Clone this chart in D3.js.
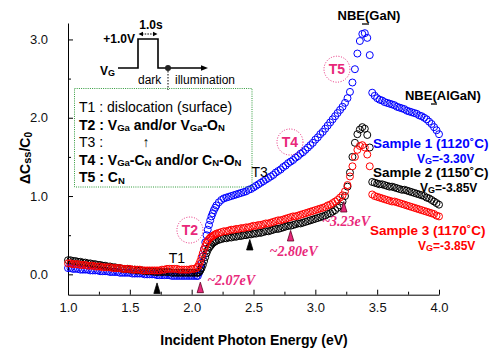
<!DOCTYPE html>
<html><head><meta charset="utf-8">
<script src="https://cdn.jsdelivr.net/npm/d3@7"></script>
<style>body{margin:0;background:#fff}svg{display:block}</style>
</head><body>
<svg id="c" width="491" height="350"></svg>
<script>
// ---------- data ----------
const energy = [
1.00,1.02,1.04,1.06,1.08,1.10,1.12,1.14,1.16,1.18,
1.20,1.22,1.24,1.26,1.28,1.30,1.32,1.34,1.36,1.38,
1.40,1.42,1.44,1.46,1.48,1.50,1.52,1.54,1.56,1.58,
1.60,1.62,1.64,1.66,1.68,1.70,1.72,1.74,1.76,1.78,
1.80,1.82,1.84,1.86,1.88,1.90,1.92,1.94,1.96,1.98,
2.00,2.02,2.04,2.05,2.06,2.07,2.08,2.09,2.10,2.11,2.12,2.13,2.14,2.15,2.16,2.17,2.18,2.19,
2.20,2.22,2.24,2.26,2.28,2.30,2.32,2.34,2.36,2.38,
2.40,2.42,2.44,2.46,2.48,2.50,2.52,2.54,2.56,2.58,
2.60,2.62,2.64,2.66,2.68,2.70,2.72,2.74,2.76,2.78,
2.80,2.82,2.84,2.86,2.88,2.90,2.92,2.94,2.96,2.98,
3.00,3.02,3.04,3.06,3.08,3.10,3.12,3.14,3.16,3.18,
3.20,3.22,3.24,3.26,3.28,3.30,3.32,3.34,3.36,3.38,
3.40,3.42,3.44,3.46,3.48,3.50,3.52,3.54,3.56,3.58,
3.60,3.62,3.64,3.66,3.68,3.70,3.72,3.74,3.76,3.78,
3.80,3.82,3.84,3.86,3.88,3.90,3.92,3.94,3.96,3.98,
4.00];
const sample1 = [
0.08,0.08,0.07,0.07,0.07,0.06,0.06,0.06,0.06,0.05,
0.05,0.05,0.05,0.04,0.04,0.04,0.04,0.03,0.03,0.03,
0.03,0.02,0.02,0.02,0.02,0.02,0.01,0.01,0.01,0.01,
0.01,0.00,0.00,0.00,0.00,0.00,-0.01,-0.01,-0.01,-0.01,
-0.01,-0.01,-0.02,-0.02,-0.02,-0.02,-0.02,-0.02,-0.02,-0.02,
-0.02,-0.02,-0.02,-0.02,0.02,0.07,0.14,0.23,0.32,0.41,0.50,0.57,0.63,0.69,0.74,0.78,0.82,0.85,
0.88,0.92,0.95,0.97,0.98,0.99,1.00,1.01,1.02,1.03,
1.04,1.05,1.06,1.08,1.09,1.11,1.13,1.15,1.17,1.19,
1.21,1.23,1.25,1.27,1.30,1.32,1.34,1.37,1.39,1.42,
1.44,1.46,1.49,1.51,1.54,1.56,1.59,1.62,1.65,1.68,
1.72,1.75,1.79,1.82,1.86,1.90,1.94,1.98,2.02,2.06,
2.10,2.14,2.19,2.25,2.33,2.45,2.62,2.82,2.98,3.07,
3.08,3.02,2.80,2.32,2.28,2.25,2.23,2.22,2.20,2.19,
2.18,2.17,2.16,2.14,2.13,2.12,2.11,2.09,2.08,2.07,
2.06,2.05,2.03,2.02,2.00,1.98,1.95,1.92,1.88,1.84,
1.79];
const sample2 = [
0.18,0.18,0.17,0.17,0.16,0.16,0.15,0.15,0.14,0.14,
0.13,0.13,0.12,0.12,0.11,0.11,0.10,0.10,0.09,0.09,
0.08,0.08,0.07,0.07,0.07,0.06,0.06,0.06,0.05,0.05,
0.05,0.04,0.04,0.04,0.04,0.03,0.03,0.03,0.03,0.03,
0.03,0.03,0.02,0.02,0.02,0.02,0.02,0.02,0.02,0.02,
0.02,0.02,0.02,0.02,0.03,0.05,0.08,0.12,0.17,0.22,0.27,0.31,0.34,0.36,0.38,0.40,0.41,0.42,
0.43,0.44,0.45,0.46,0.46,0.47,0.47,0.48,0.48,0.49,
0.49,0.50,0.50,0.51,0.51,0.52,0.52,0.53,0.53,0.54,
0.55,0.55,0.56,0.57,0.58,0.58,0.59,0.60,0.61,0.62,
0.62,0.63,0.64,0.65,0.65,0.66,0.67,0.68,0.69,0.70,
0.71,0.72,0.73,0.74,0.75,0.77,0.78,0.80,0.82,0.85,
0.88,0.93,1.00,1.12,1.30,1.50,1.68,1.79,1.85,1.88,
1.86,1.78,1.62,1.18,1.17,1.16,1.15,1.15,1.14,1.13,
1.12,1.12,1.11,1.10,1.09,1.08,1.08,1.07,1.06,1.05,
1.04,1.03,1.02,1.01,1.00,0.98,0.97,0.95,0.93,0.91,
0.89];
const sample3 = [
0.14,0.14,0.13,0.13,0.13,0.12,0.12,0.12,0.11,0.11,
0.11,0.10,0.10,0.10,0.09,0.09,0.09,0.09,0.08,0.08,
0.08,0.08,0.07,0.07,0.07,0.07,0.06,0.06,0.06,0.06,
0.05,0.05,0.05,0.05,0.05,0.05,0.05,0.05,0.06,0.06,
0.07,0.07,0.07,0.07,0.07,0.06,0.06,0.06,0.06,0.06,
0.07,0.07,0.08,0.10,0.13,0.17,0.22,0.27,0.32,0.36,0.40,0.43,0.45,0.47,0.48,0.49,0.50,0.51,
0.52,0.53,0.54,0.55,0.55,0.56,0.57,0.57,0.58,0.58,
0.59,0.59,0.60,0.60,0.61,0.62,0.62,0.63,0.63,0.64,
0.65,0.65,0.66,0.67,0.68,0.69,0.69,0.70,0.71,0.72,
0.73,0.74,0.74,0.75,0.76,0.77,0.78,0.79,0.80,0.81,
0.82,0.83,0.84,0.85,0.86,0.88,0.89,0.91,0.93,0.95,
0.98,1.01,1.06,1.14,1.25,1.38,1.50,1.59,1.64,1.65,
1.62,1.53,1.38,1.02,1.00,0.99,0.98,0.97,0.96,0.95,
0.94,0.93,0.93,0.92,0.91,0.90,0.89,0.88,0.87,0.86,
0.85,0.84,0.83,0.82,0.81,0.80,0.79,0.78,0.77,0.75,
0.74];
const seriesColors = ["#0000ff", "#000000", "#ff0000"];
const xMajorTicks = [1.0, 1.5, 2.0, 2.5, 3.0, 3.5, 4.0];
const xMinorTicks = [1.25, 1.75, 2.25, 2.75, 3.25, 3.75];
const yMajorTicks = [0, 1, 2, 3];
const yMinorTicks = [0.5, 1.5, 2.5];
// trap-level marker triangles
const markerEnergy = [1.72, 2.07, 2.47, 2.80, 3.23];
const markerLevel  = [-0.18, -0.17, 0.375, 0.49, 0.86];
const markerPink   = [false, true, false, true, true];
const energyLabels = ["~2.07eV", "~2.80eV", "~3.23eV"];
const energyLabelPos = [[2.125, -0.14], [2.63, 0.235], [3.055, 0.615]];
const trapCircles = [["T2", 1.986, 0.566], ["T4", 2.795, 1.69], ["T5", 3.175, 2.62]];

const PINK = "#e8287a";
const SANS = 'Arial,"Liberation Sans",sans-serif';
const SERIF = '"Liberation Serif","Times New Roman","DejaVu Serif",serif';
const svg = d3.select("#c").attr("font-family", SANS);
const x = d3.scaleLinear().domain([1, 4]).range([68, 439]);
const y = d3.scaleLinear().domain([-0.26, 3.21]).range([294.7, 23]);

// ---------- axes ----------
const gx = svg.append("g").attr("transform", `translate(0,${y(-0.26)})`)
  .call(d3.axisBottom(x).tickValues(xMajorTicks).tickSize(-5).tickSizeOuter(0).tickPadding(8).tickFormat(d3.format(".1f")));
svg.append("g").attr("transform", `translate(0,${y(-0.26)})`)
  .call(d3.axisBottom(x).tickValues(xMinorTicks).tickSize(-3).tickSizeOuter(0).tickFormat(""))
  .select(".domain").remove();
const gy = svg.append("g").attr("transform", `translate(${x(1)},0)`)
  .call(d3.axisLeft(y).tickValues(yMajorTicks).tickSize(-5).tickSizeOuter(0).tickPadding(20).tickFormat(d3.format(".1f")));
svg.append("g").attr("transform", `translate(${x(1)},0)`)
  .call(d3.axisLeft(y).tickValues(yMinorTicks).tickSize(-3).tickSizeOuter(0).tickFormat(""))
  .select(".domain").remove();
[gx, gy].forEach(g => g.attr("font-size", 13).attr("font-family", SANS).selectAll("text").attr("fill", "#111"));

// ---------- data marks ----------
[sample1, sample2, sample3].forEach((vals, k) => {
  svg.append("g").selectAll("circle")
    .data(energy.map((e, i) => [e, vals[i]]))
    .join("circle")
    .attr("cx", d => x(d[0])).attr("cy", d => y(d[1]))
    .attr("r", 3.5).attr("fill", "none")
    .attr("stroke", seriesColors[k]).attr("stroke-width", 1);
});

// ---------- helpers ----------
function rich(parent, px, py, parts, size, weight, color, anchor) {
  const t = parent.append("text").attr("x", px).attr("y", py)
    .attr("font-size", size).attr("font-weight", weight || "normal")
    .attr("fill", color || "#000").attr("text-anchor", anchor || "start");
  let shifted = 0;
  parts.forEach(p => {
    const ts = t.append("tspan").text(p.t);
    if (p.sub) {
      ts.attr("font-size", p.size || size * 0.68).attr("dy", (p.dy || 1.5) - shifted);
      shifted = (p.dy || 1.5);
    } else if (shifted) {
      ts.attr("dy", -shifted); shifted = 0;
    }
  });
  return t;
}

// ---------- triangles ----------
markerEnergy.forEach((e, i) => {
  const cx = x(e), cy = y(markerLevel[i]);
  svg.append("path")
    .attr("d", `M${cx},${cy - 5.5}L${cx + 3.2},${cy + 5}L${cx - 3.2},${cy + 5}Z`)
    .attr("fill", markerPink[i] ? PINK : "#000")
    .attr("stroke", markerPink[i] ? "#5a0020" : "#000").attr("stroke-width", 0.8);
});
energyLabels.forEach((s, i) => {
  svg.append("text").attr("x", x(energyLabelPos[i][0])).attr("y", y(energyLabelPos[i][1]))
    .attr("font-family", SERIF)
    .attr("font-style", "italic").attr("font-weight", "bold")
    .attr("font-size", 14).attr("fill", PINK).text(s);
});

// ---------- trap circles ----------
trapCircles.forEach(([lab, ex, ey]) => {
  svg.append("circle").attr("cx", x(ex)).attr("cy", y(ey)).attr("r", 13)
    .attr("fill", "none").attr("stroke", PINK).attr("stroke-width", 1)
    .attr("stroke-dasharray", "1,1.6");
  svg.append("text").attr("x", x(ex)).attr("y", y(ey) + 5).attr("text-anchor", "middle")
    .attr("font-size", 14).attr("font-weight", "bold").attr("fill", PINK).text(lab);
});
svg.append("text").attr("x", x(1.88)).attr("y", y(0.21) + 5).attr("text-anchor", "middle")
  .attr("font-size", 14).text("T1");
svg.append("text").attr("x", x(2.55)).attr("y", y(1.31) + 5).attr("text-anchor", "middle")
  .attr("font-size", 14).text("T3");

// ---------- NBE labels ----------
svg.append("text").attr("x", x(3.434)).attr("y", y(3.254)).attr("text-anchor", "middle")
  .attr("font-size", 13).attr("font-weight", "bold").text("NBE(GaN)");
svg.append("line").attr("x1", 362).attr("x2", 369).attr("y1", 24).attr("y2", 24).attr("stroke", "#000").attr("stroke-width", 1.3);
svg.append("text").attr("x", x(3.725)).attr("y", y(2.232))
  .attr("font-size", 13).attr("font-weight", "bold").text("NBE(AlGaN)");
svg.append("line").attr("x1", 431).attr("x2", 437).attr("y1", 104).attr("y2", 104).attr("stroke", "#000").attr("stroke-width", 1.3);

// ---------- sample labels ----------
const sampleLabels = [
  ["Sample 1 (1120˚C)", 3.466, 1.613, "V", "G", "=-3.30V", 3.822, 1.42],
  ["Sample 2 (1150˚C)", 3.466, 1.243, "V", "G", "=-3.85V", 3.846, 1.05],
  ["Sample 3 (1170˚C)", 3.442, 0.502, "V", "G", "=-3.85V", 3.83, 0.31]
];
sampleLabels.forEach((s, k) => {
  svg.append("text").attr("x", x(s[1])).attr("y", y(s[2]))
    .attr("font-size", 13.5).attr("font-weight", "bold").attr("fill", seriesColors[k]).text(s[0]);
  rich(svg, x(s[6]), y(s[7]), [{t: s[3]}, {t: s[4], sub: true, size: 9, dy: 1}, {t: s[5]}], 12, "bold", seriesColors[k]);
});

// ---------- inset pulse diagram ----------
const ins = svg.append("g");
ins.append("path").attr("d", "M118,68H138V39H158V68H203").attr("fill", "none").attr("stroke", "#000").attr("stroke-width", 1.6);
ins.append("path").attr("d", "M208,68L201,65.2L201,70.8Z").attr("fill", "#000");
ins.append("circle").attr("cx", 168).attr("cy", 68).attr("r", 3).attr("fill", "#222");
ins.append("line").attr("x1", 168).attr("x2", 168).attr("y1", 71).attr("y2", 90).attr("stroke", "#000").attr("stroke-width", 1).attr("stroke-dasharray", "1.5,1.5");
ins.append("line").attr("x1", 142).attr("x2", 154).attr("y1", 34).attr("y2", 34).attr("stroke", "#000").attr("stroke-width", 1).attr("stroke-dasharray", "1.5,1.2");
ins.append("path").attr("d", "M138.5,34L143,31.8L143,36.2Z M157.5,34L153,31.8L153,36.2Z").attr("fill", "#000");
ins.append("text").attr("x", 151).attr("y", 29).attr("text-anchor", "middle").attr("font-size", 12).attr("font-weight", "bold").text("1.0s");
ins.append("text").attr("x", 135).attr("y", 43).attr("text-anchor", "end").attr("font-size", 12).attr("font-weight", "bold").text("+1.0V");
rich(ins, 100, 75, [{t: "V"}, {t: "G", sub: true, size: 9, dy: 1}], 12, "bold", "#000");
ins.append("text").attr("x", 138).attr("y", 84).attr("font-size", 12).text("dark");
ins.append("text").attr("x", 175).attr("y", 84).attr("font-size", 12).text("illumination");

// ---------- legend box ----------
const lg = svg.append("g");
lg.append("rect").attr("x", 74.5).attr("y", 88.5).attr("width", 177.5).attr("height", 98.5)
  .attr("fill", "none").attr("stroke", "#2f9a3a").attr("stroke-width", 1).attr("stroke-dasharray", "1,1.2");
const legendLines = [
  {w: "normal", parts: [{t: "T1 : dislocation (surface)"}]},
  {w: "bold", parts: [{t: "T2 : V"}, {t: "Ga", sub: true}, {t: " and/or V"}, {t: "Ga", sub: true}, {t: "-O"}, {t: "N", sub: true}]},
  {w: "normal", parts: [{t: "T3 :"}]},
  {w: "bold", parts: [{t: "T4 : V"}, {t: "Ga", sub: true}, {t: "-C"}, {t: "N", sub: true}, {t: " and/or C"}, {t: "N", sub: true}, {t: "-O"}, {t: "N", sub: true}]},
  {w: "bold", parts: [{t: "T5 : C"}, {t: "N", sub: true}]}
];
legendLines.forEach((L, i) => rich(lg, 79, 112 + 17.5 * i, L.parts, 14, L.w, "#000"));
lg.append("text").attr("x", 146).attr("y", 147).attr("text-anchor", "middle").attr("font-size", 14).text("↑");

// ---------- axis titles ----------
svg.append("text").attr("x", 254).attr("y", 345).attr("text-anchor", "middle")
  .attr("font-size", 14).attr("font-weight", "bold").text("Incident Photon Energy (eV)");
const yt = svg.append("g").attr("transform", "translate(30,158) rotate(-90)");
rich(yt, 0, 0, [{t: "ΔC"}, {t: "ss", sub: true, size: 11, dy: 1}, {t: "/C"}, {t: "0", sub: true, size: 10, dy: 1.5}], 14, "bold", "#000", "middle");
</script>
</body></html>
